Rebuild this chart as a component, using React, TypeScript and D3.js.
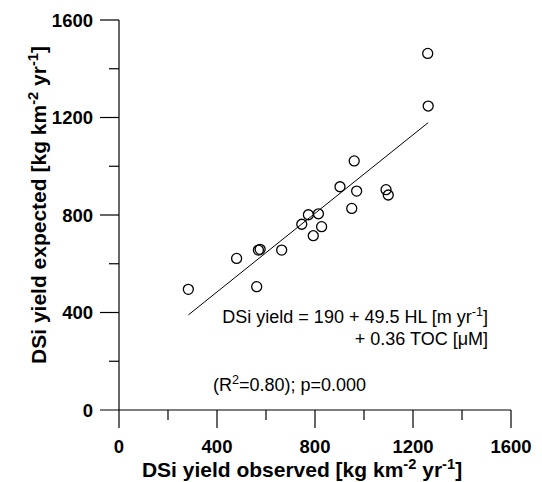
import React from "react";
import * as d3 from "d3";

// observed vs expected DSi yield
const observed = [283, 480, 562, 569, 576, 664, 746, 773, 814, 793, 827, 902, 960, 970, 950, 1090, 1099, 1262, 1260];
const expected = [495, 622, 506, 656, 659, 656, 762, 801, 805, 715, 752, 916, 1022, 898, 827, 904, 882, 1247, 1463];

// regression line end points
const lineX = [283, 1262];
const lineY = [390, 1179];

const majorTicks = [0, 400, 800, 1200, 1600];
const minorTicks = [200, 600, 1000, 1400];

const FONT = "'Liberation Sans', Arial, Helvetica, sans-serif";

// parts: [text, isSuperscript]; size is the base font size in px
const richText = (sel, size, parts) => {
  const shift = size * 0.4;
  let up = false;
  parts.forEach(([txt, isSup]) => {
    const t = sel.append("tspan").text(txt);
    if (isSup) {
      t.attr("font-size", size * 0.7).attr("dy", up ? 0 : -shift);
      up = true;
    } else {
      t.attr("dy", up ? shift : 0);
      up = false;
    }
  });
};

const App = () => {
  const ref = React.useRef(null);

  React.useEffect(() => {
    const svg = d3.select(ref.current);
    svg.selectAll("*").remove();

    const x = d3.scaleLinear().domain([0, 1600]).range([119, 511]);
    const y = d3.scaleLinear().domain([0, 1600]).range([410, 20]);

    const g = svg.append("g").attr("stroke", "#000").attr("stroke-width", 1.2).attr("fill", "none");

    // axis lines, y axis runs a little below zero, x axis a little left of it
    g.append("line").attr("x1", x(0)).attr("x2", x(0)).attr("y1", y(1600)).attr("y2", y(0) + 18);
    g.append("line").attr("x1", x(0) - 19).attr("x2", x(1600)).attr("y1", y(0)).attr("y2", y(0));

    g.selectAll(".xmaj").data(majorTicks.slice(1)).enter().append("line")
      .attr("x1", d => x(d)).attr("x2", d => x(d)).attr("y1", y(0)).attr("y2", y(0) + 18);
    g.selectAll(".xmin").data(minorTicks).enter().append("line")
      .attr("x1", d => x(d)).attr("x2", d => x(d)).attr("y1", y(0)).attr("y2", y(0) + 10);
    g.selectAll(".ymaj").data(majorTicks.slice(1)).enter().append("line")
      .attr("x1", x(0) - 19).attr("x2", x(0)).attr("y1", d => y(d)).attr("y2", d => y(d));
    g.selectAll(".ymin").data(minorTicks).enter().append("line")
      .attr("x1", x(0) - 10).attr("x2", x(0)).attr("y1", d => y(d)).attr("y2", d => y(d));

    // tick labels
    svg.selectAll(".xl").data(majorTicks).enter().append("text")
      .attr("x", d => x(d)).attr("y", 453)
      .attr("text-anchor", "middle").attr("font-family", FONT).attr("font-weight", "bold").attr("font-size", 18.5)
      .text(d => d);
    svg.selectAll(".yl").data(majorTicks).enter().append("text")
      .attr("x", 93).attr("y", d => y(d) + 6.5)
      .attr("text-anchor", "end").attr("font-family", FONT).attr("font-weight", "bold").attr("font-size", 18.5)
      .text(d => d);

    // regression line
    svg.append("line")
      .attr("x1", x(lineX[0])).attr("y1", y(lineY[0]))
      .attr("x2", x(lineX[1])).attr("y2", y(lineY[1]))
      .attr("stroke", "#000").attr("stroke-width", 1);

    // points
    svg.selectAll("circle").data(observed).enter().append("circle")
      .attr("cx", d => x(d)).attr("cy", (d, i) => y(expected[i])).attr("r", 5)
      .attr("fill", "none").attr("stroke", "#000").attr("stroke-width", 1.3);

    // axis titles
    const xt = svg.append("text").attr("x", 302).attr("y", 477)
      .attr("text-anchor", "middle").attr("font-family", FONT).attr("font-weight", "bold").attr("font-size", 21);
    richText(xt, 21, [["DSi yield observed [kg km"], ["-2", true], [" yr"], ["-1", true], ["]"]]);

    const yt = svg.append("text").attr("transform", "translate(46,205) rotate(-90)")
      .attr("text-anchor", "middle").attr("font-family", FONT).attr("font-weight", "bold").attr("font-size", 21);
    richText(yt, 21, [["DSi yield expected [kg km"], ["-2", true], [" yr"], ["-1", true], ["]"]]);

    // annotation
    const t1 = svg.append("text").attr("x", 488).attr("y", 323)
      .attr("text-anchor", "end").attr("font-family", FONT).attr("font-size", 18);
    richText(t1, 18, [["DSi yield = 190 + 49.5 HL [m yr"], ["-1", true], ["]"]]);
    svg.append("text").attr("x", 488).attr("y", 345)
      .attr("text-anchor", "end").attr("font-family", FONT).attr("font-size", 18)
      .text("+ 0.36 TOC [\u03bcM]");
    const t3 = svg.append("text").attr("x", 213).attr("y", 391)
      .attr("font-family", FONT).attr("font-size", 18);
    richText(t3, 18, [["(R"], ["2", true], ["=0.80); p=0.000"]]);
  }, []);

  return (
    <svg ref={ref} width={542} height={482}
      style={{ position: "absolute", left: 0, top: 0, background: "#fff" }} />
  );
};

export default App;
